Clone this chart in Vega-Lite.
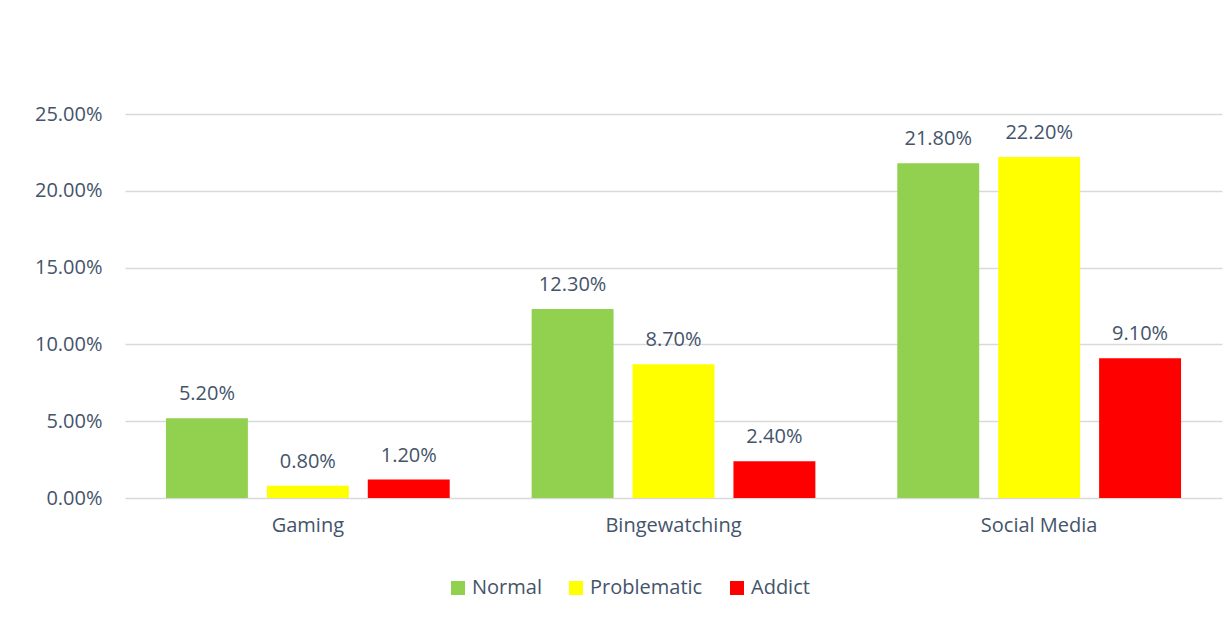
{
  "$schema": "https://vega.github.io/schema/vega-lite/v6.json",
  "autosize": {"type": "none"},
  "width": 1097,
  "height": 384,
  "padding": {"left": 125, "top": 114, "right": 10, "bottom": 119},
  "background": "white",
  "config": {
    "font": "Open Sans",
    "view": {"stroke": null},
    "axis": {"labelColor": "#44546A", "labelFontSize": 20, "labelFont": "Open Sans", "titleColor": "#44546A"},
    "legend": {"labelColor": "#44546A", "labelFontSize": 20, "labelFont": "Open Sans"}
  },
  "data": {
    "values": [
      {"category": "Gaming", "group": "Normal", "value": 0.052},
      {"category": "Gaming", "group": "Problematic", "value": 0.008},
      {"category": "Gaming", "group": "Addict", "value": 0.012},
      {"category": "Bingewatching", "group": "Normal", "value": 0.123},
      {"category": "Bingewatching", "group": "Problematic", "value": 0.087},
      {"category": "Bingewatching", "group": "Addict", "value": 0.024},
      {"category": "Social Media", "group": "Normal", "value": 0.218},
      {"category": "Social Media", "group": "Problematic", "value": 0.222},
      {"category": "Social Media", "group": "Addict", "value": 0.091}
    ]
  },
  "encoding": {
    "x": {
      "field": "category",
      "type": "nominal",
      "sort": ["Gaming", "Bingewatching", "Social Media"],
      "scale": {"paddingInner": 0.224, "paddingOuter": 0.112},
      "axis": {"title": null, "labelAngle": 0, "domain": false, "ticks": false, "labelPadding": 17}
    },
    "xOffset": {
      "field": "group",
      "type": "nominal",
      "sort": ["Normal", "Problematic", "Addict"],
      "scale": {"paddingInner": 0.188, "paddingOuter": 0}
    },
    "y": {
      "field": "value",
      "type": "quantitative",
      "scale": {"domain": [0, 0.25], "nice": false},
      "axis": {
        "title": null,
        "format": ".2%",
        "values": [0, 0.05, 0.1, 0.15, 0.2, 0.25],
        "domain": false,
        "ticks": false,
        "labelPadding": 23,
        "gridColor": "#D9D9D9",
        "gridWidth": 1.3
      }
    }
  },
  "layer": [
    {
      "mark": {"type": "bar"},
      "encoding": {
        "color": {
          "field": "group",
          "type": "nominal",
          "sort": ["Normal", "Problematic", "Addict"],
          "scale": {"domain": ["Normal", "Problematic", "Addict"], "range": ["#92D050", "#FFFF00", "#FF0000"]},
          "legend": {
            "title": null,
            "orient": "none",
            "direction": "horizontal",
            "legendX": 323,
            "legendY": 464,
            "symbolType": "square",
            "symbolSize": 196,
            "symbolStrokeWidth": 0,
            "symbolOpacity": 1,
            "labelOffset": 4,
            "columnPadding": 24,
            "padding": 0
          }
        }
      }
    },
    {
      "mark": {"type": "text", "baseline": "alphabetic", "dy": -18, "fontSize": 20, "color": "#44546A", "font": "Open Sans"},
      "encoding": {
        "text": {"field": "value", "type": "quantitative", "format": ".2%"}
      }
    }
  ]
}
